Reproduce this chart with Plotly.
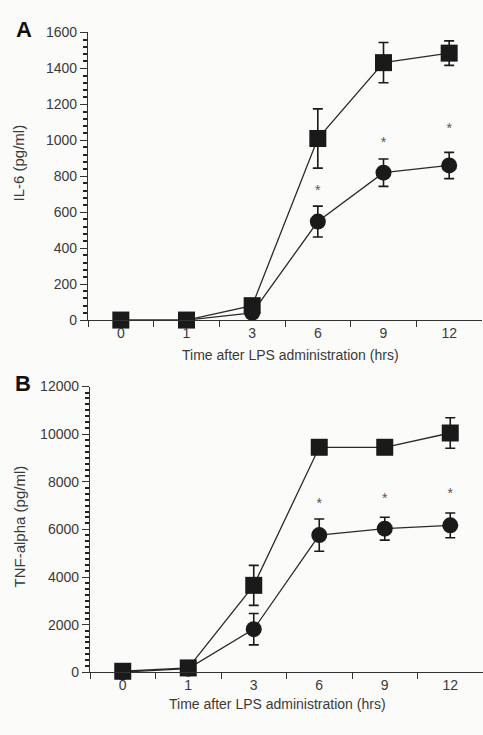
import plotly.graph_objects as go

hours = ["0", "1", "3", "6", "9", "12"]

# Panel A: IL-6 (pg/ml)
il6_square = [0, 0, 80, 1010, 1432, 1485]
il6_square_err = [0, 0, 0, 165, 112, 68]
il6_circle = [0, 0, 40, 548, 820, 860]
il6_circle_err = [0, 0, 0, 86, 76, 73]
il6_star_x = ["6", "9", "12"]
il6_star_y = [715, 980, 1060]

# Panel B: TNF-alpha (pg/ml)
tnf_square = [40, 180, 3650, 9450, 9450, 10050]
tnf_square_err = [0, 0, 840, 150, 250, 640]
tnf_circle = [0, 150, 1810, 5760, 6030, 6170]
tnf_circle_err = [0, 0, 660, 680, 480, 520]
tnf_star_x = ["6", "9", "12"]
tnf_star_y = [7050, 7250, 7450]

W, H = 483, 735
ink = "#1a1a1a"
txt = "#3a3a3a"
font = "Liberation Sans"

fig = go.Figure()

def add_panel(xa, ya, sq, sqe, ci, cie, sx, sy):
    fig.add_trace(go.Scatter(
        x=hours, y=ci, xaxis=xa, yaxis=ya, mode="lines+markers",
        line=dict(color="#2a2a2a", width=1.3),
        marker=dict(symbol="circle", size=16, color=ink),
        error_y=dict(type="data", array=cie, visible=True, color=ink, thickness=1.6, width=5),
        cliponaxis=False, showlegend=False))
    fig.add_trace(go.Scatter(
        x=hours, y=sq, xaxis=xa, yaxis=ya, mode="lines+markers",
        line=dict(color="#2a2a2a", width=1.3),
        marker=dict(symbol="square", size=17, color=ink),
        error_y=dict(type="data", array=sqe, visible=True, color=ink, thickness=1.6, width=5),
        cliponaxis=False, showlegend=False))
    fig.add_trace(go.Scatter(
        x=sx, y=sy, xaxis=xa, yaxis=ya, mode="text", text=["*"] * len(sx),
        textfont=dict(family=font, size=14, color="#555"),
        cliponaxis=False, showlegend=False))

add_panel("x", "y", il6_square, il6_square_err, il6_circle, il6_circle_err, il6_star_x, il6_star_y)
add_panel("x2", "y2", tnf_square, tnf_square_err, tnf_circle, tnf_circle_err, tnf_star_x, tnf_star_y)

xcommon = dict(type="category", categoryorder="array", categoryarray=hours,
               range=[-0.5, 5.5], tickson="boundaries", ticks="outside", ticklen=6,
               tickwidth=1.2, tickcolor="#333", showline=True, linecolor="#333", linewidth=1.3,
               showgrid=False, zeroline=False,
               tickfont=dict(family=font, size=14, color=txt))

def ycommon(rng, dtick, minor_dtick):
    return dict(range=rng, tickmode="linear", tick0=0, dtick=dtick, tickformat="d",
                ticks="outside", ticklen=7, tickwidth=1.2,
                tickcolor="#333", showline=True, linecolor="#333", linewidth=1.3,
                showgrid=False, zeroline=False,
                minor=dict(tick0=0, dtick=minor_dtick, ticks="outside", ticklen=4,
                           tickcolor="#222", tickwidth=1.5, showgrid=False),
                tickfont=dict(family=font, size=14, color=txt))

fig.update_layout(
    width=W, height=H, margin=dict(l=0, r=0, t=0, b=0),
    paper_bgcolor="#fbfbf9", plot_bgcolor="rgba(0,0,0,0)",
    xaxis=dict(domain=[88 / W, 482 / W], anchor="y", **xcommon),
    yaxis=dict(domain=[1 - 319 / H, 1 - 25 / H], anchor="x", **ycommon([0, 1600], 200, 40)),
    xaxis2=dict(domain=[90 / W, 483 / W], anchor="y2", **xcommon),
    yaxis2=dict(domain=[1 - 679 / H, 1 - 387 / H], anchor="x2", **ycommon([0, 12000], 2000, 250)),
)

def ann(text, x, y, size, angle=0, bold=False, color=txt):
    fig.add_annotation(text=f"<b>{text}</b>" if bold else text, x=x / W, y=1 - y / H,
                       xref="paper", yref="paper", showarrow=False, textangle=angle,
                       font=dict(family=font, size=size, color=color),
                       xanchor="center", yanchor="middle")

ann("IL-6 (pg/ml)", 19, 159, 15, angle=-90)
ann("TNF-alpha (pg/ml)", 19, 530, 15, angle=-90)
ann("Time after LPS administration (hrs)", 290, 355, 14)
ann("Time after LPS administration (hrs)", 277, 711, 14)
ann("A", 24, 22, 22, bold=True, color="#111")
ann("B", 23, 384, 22, bold=True, color="#111")

fig.write_html("out.html")
